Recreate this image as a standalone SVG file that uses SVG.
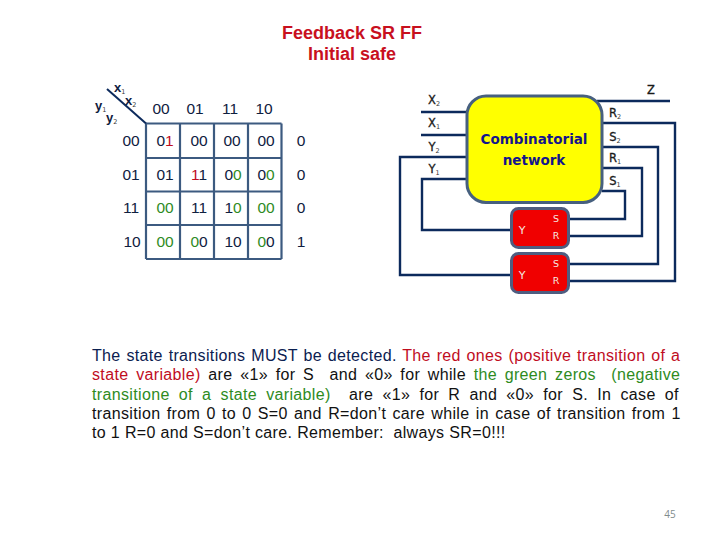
<svg xmlns="http://www.w3.org/2000/svg" width="720" height="540" viewBox="0 0 720 540">
<style>
text{font-family:"Liberation Sans",Arial,sans-serif}
.t{font-size:18px;font-weight:700;fill:#c8101e;text-anchor:middle}
.k{font-size:15.500px;fill:#0f2040;text-anchor:middle}
.g{fill:#2e8b1e}.r{fill:#c00d1e}
.grid{fill:none;stroke:#3c5a80;stroke-width:2.200}
.lb{font-size:11.500px;fill:#1a1a1a;text-anchor:middle;font-family:"DejaVu Sans",sans-serif;stroke:#1a1a1a;stroke-width:.3}
.xy{font-size:13px;fill:#0f2040;font-weight:700}
.sb{font-size:6.500px;fill:#333;font-family:"DejaVu Sans",sans-serif;stroke:none;font-weight:400}
.c{fill:none;stroke:#0c2a5c;stroke-width:2.400}
.ff{fill:#f00000;stroke:#4f5d80;stroke-width:3}
.w{font-size:9.500px;fill:#f4e8e0;text-anchor:middle;font-family:"DejaVu Sans",sans-serif}
.y{font-size:11px}
.p{font-size:16px;fill:#111;letter-spacing:.35px;stroke:currentColor;stroke-width:0}
.n{fill:#0b2050}
</style>
<g id="title"><text class="t" x="352" y="39">Feedback SR FF</text><text class="t" x="352" y="60">Initial safe</text></g>
<g id="kmap">
<path class="grid" d="M146 123.500H281.500M146 158H281.500M146 191.500H281.500M146 225H281.500M146 259H281.500M146 123.500V259M180 123.500V259M214 123.500V259M248 123.500V259M281.500 123.500V259"/>
<path d="M107 89L146 123.500" fill="none" stroke="#0c2a5c" stroke-width="2"/>
<text class="xy" x="114" y="92">x<tspan class="sb" dy="2">1</tspan></text>
<text class="xy" x="125" y="105">x<tspan class="sb" dy="2">2</tspan></text>
<text class="xy" x="95" y="110">y<tspan class="sb" dy="2">1</tspan></text>
<text class="xy" x="106" y="122">y<tspan class="sb" dy="2">2</tspan></text>
<text class="k" x="161" y="114">00</text><text class="k" x="195" y="114">01</text><text class="k" x="230" y="114">11</text><text class="k" x="264" y="114">10</text>
<text class="k" x="131" y="146">00</text><text class="k" x="131" y="180">01</text><text class="k" x="131" y="213">11</text><text class="k" x="132" y="247">10</text>
<text class="k" x="165" y="146">0<tspan class="r">1</tspan></text><text class="k" x="199" y="146">00</text><text class="k" x="232" y="146">00</text><text class="k" x="266" y="146">00</text>
<text class="k" x="165" y="180">01</text><text class="k" x="199" y="180"><tspan class="r">1</tspan>1</text><text class="k" x="233" y="180">0<tspan class="g">0</tspan></text><text class="k" x="266" y="180">0<tspan class="g">0</tspan></text>
<text class="k g" x="165" y="213">00</text><text class="k" x="199" y="213">11</text><text class="k" x="233" y="213">1<tspan class="g">0</tspan></text><text class="k g" x="266" y="213">00</text>
<text class="k g" x="165" y="247">00</text><text class="k" x="199" y="247"><tspan class="g">0</tspan>0</text><text class="k" x="233" y="247">10</text><text class="k" x="266" y="247"><tspan class="g">0</tspan>0</text>
<text class="k" x="301" y="146">0</text><text class="k" x="301" y="180">0</text><text class="k" x="301" y="213">0</text><text class="k" x="301" y="247">1</text>
</g>
<g id="connectors">
<path class="c" d="M597 101H670M421 112H467M421 135H467M467 157H400V275H511M467 179H422V230H511M602 123H675V281H569M602 147H658V264H569M602 168H642V236H569M602 191H625V219H569"/>
</g>
<g id="network"><rect x="467" y="96" width="135" height="106.500" rx="19" fill="#ffff00" stroke="#47607f" stroke-width="3"/>
<text x="534" y="144" text-anchor="middle" style="font-family:'DejaVu Sans',sans-serif;font-size:13.500px;font-weight:700;fill:#14148c">Combinatorial</text>
<text x="534" y="165" text-anchor="middle" style="font-family:'DejaVu Sans',sans-serif;font-size:13.500px;font-weight:700;fill:#14148c">network</text>
</g>
<g id="ff1"><rect class="ff" x="511.500" y="208.500" width="57" height="39" rx="7"/><text class="w y" x="522" y="234">Y</text><text class="w" x="556" y="222">S</text><text class="w" x="556" y="239">R</text></g>
<g id="ff2"><rect class="ff" x="511.500" y="253.500" width="57" height="39" rx="7"/><text class="w y" x="522" y="279">Y</text><text class="w" x="556" y="267">S</text><text class="w" x="556" y="284">R</text></g>
<g id="labels">
<text class="lb" x="651" y="94">Z</text>
<text class="lb" x="434" y="104">X<tspan class="sb" dy="2">2</tspan></text>
<text class="lb" x="434" y="127">X<tspan class="sb" dy="2">1</tspan></text>
<text class="lb" x="434" y="151">Y<tspan class="sb" dy="2">2</tspan></text>
<text class="lb" x="434" y="173">Y<tspan class="sb" dy="2">1</tspan></text>
<text class="lb" x="615" y="117">R<tspan class="sb" dy="2">2</tspan></text>
<text class="lb" x="615" y="141">S<tspan class="sb" dy="2">2</tspan></text>
<text class="lb" x="615" y="162">R<tspan class="sb" dy="2">1</tspan></text>
<text class="lb" x="615" y="185">S<tspan class="sb" dy="2">1</tspan></text>
</g>
<g id="paragraph">
<text class="p" x="92" y="361" xml:space="preserve" style="word-spacing:1px"><tspan class="n">The state transitions MUST be detected. </tspan><tspan class="r">The red ones (positive transition of a</tspan></text>
<text class="p" x="92" y="380" xml:space="preserve" style="word-spacing:2.900px"><tspan class="r">state variable)</tspan> are «1» for S  and «0» for while <tspan class="g">the green zeros  (negative</tspan></text>
<text class="p" x="92" y="400" xml:space="preserve" style="word-spacing:4.400px"><tspan class="g">transitione of a state variable)</tspan>  are «1» for R and «0» for S. In case of</text>
<text class="p" x="92" y="419" xml:space="preserve" style="word-spacing:1.500px">transition from 0 to 0 S=0 and R=don’t care while in case of transition from 1</text>
<text class="p" x="92" y="438" xml:space="preserve">to 1 R=0 and S=don’t care. Remember:  always SR=0!!!</text>
</g>
<text x="670" y="518" text-anchor="middle" font-size="10" fill="#7f8c8c" style="font-family:'Open Sans',sans-serif">45</text>
</svg>
